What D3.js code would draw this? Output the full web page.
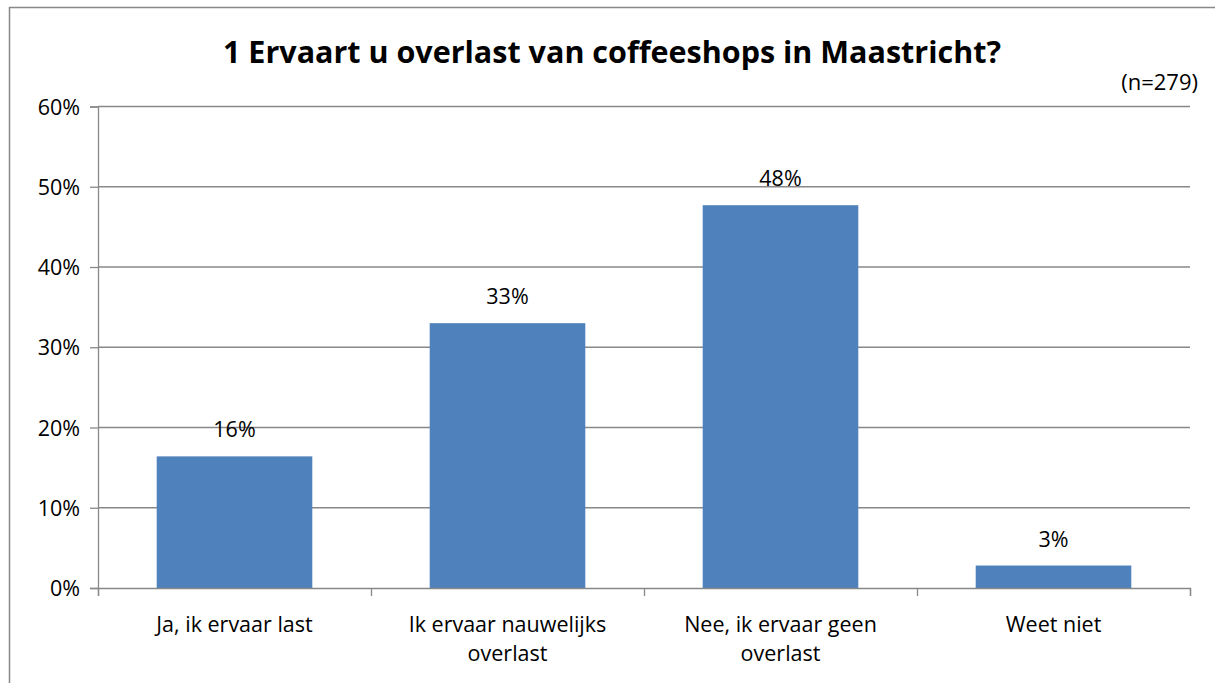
<!DOCTYPE html>
<html>
<head>
<meta charset="utf-8">
<script src="https://cdn.jsdelivr.net/npm/d3@7"></script>
<style>
  body { margin: 0; background: #fff; }
  text { font-family: "Open Sans", "Noto Sans", sans-serif; fill: #000; }
</style>
</head>
<body>
<div id="chart"></div>
<script>
// data
const categories = [["Ja, ik ervaar last"], ["Ik ervaar nauwelijks", "overlast"], ["Nee, ik ervaar geen", "overlast"], ["Weet niet"]];
const values = [0.164, 0.330, 0.477, 0.028];
const labels = ["16%", "33%", "48%", "3%"];
const yTicks = [0, 0.1, 0.2, 0.3, 0.4, 0.5, 0.6];

const width = 1215, height = 683;
const margin = {top: 106.5, right: 25, bottom: 95, left: 98};

const svg = d3.select("#chart").append("svg")
    .attr("width", width)
    .attr("height", height);

// outer frame (only top and left edges are visible)
svg.append("path")
    .attr("d", `M9.5,${height} V7.5 H${width}`)
    .attr("fill", "none").attr("stroke", "#888").attr("stroke-width", 1.5);

const x = d3.scaleBand()
    .domain(d3.range(categories.length))
    .range([margin.left, width - margin.right])
    .paddingInner(0.43).paddingOuter(0.215);

const xTicks = d3.scaleLinear().domain([0, categories.length]).range([margin.left, width - margin.right]);

const y = d3.scaleLinear().domain([0, 0.6]).range([588, margin.top]);

// gridlines
svg.append("g").selectAll("line")
    .data(yTicks.slice(1))
    .join("line")
    .attr("x1", margin.left).attr("x2", width - margin.right)
    .attr("y1", d => y(d)).attr("y2", d => y(d))
    .attr("stroke", "#888").attr("stroke-width", 1.3);

// y axis
const yAxis = svg.append("g")
    .attr("transform", `translate(${margin.left},0)`)
    .call(d3.axisLeft(y).tickValues(yTicks).tickFormat(d3.format(".0%")).tickSize(8).tickPadding(10));
yAxis.select(".domain").attr("stroke", "#888").attr("stroke-width", 1.3);
yAxis.selectAll(".tick line").attr("stroke", "#888").attr("stroke-width", 1.3);
yAxis.selectAll("text").attr("font-size", 21.5).attr("dy", "0.35em");

// bars
svg.append("g").selectAll("rect")
    .data(values)
    .join("rect")
    .attr("x", (d, i) => x(i))
    .attr("width", x.bandwidth())
    .attr("y", d => y(d))
    .attr("height", d => y(0) - y(d))
    .attr("fill", "#4f81bd");

// value labels
svg.append("g").selectAll("text")
    .data(values)
    .join("text")
    .attr("x", (d, i) => x(i) + x.bandwidth() / 2)
    .attr("y", d => y(d) - 19)
    .attr("text-anchor", "middle")
    .attr("font-size", 21.5)
    .text((d, i) => labels[i]);

// x axis
const xAxis = svg.append("g")
    .attr("transform", `translate(0,${y(0)})`)
    .call(d3.axisBottom(xTicks).tickValues(d3.range(categories.length + 1)).tickFormat("").tickSize(8));
xAxis.select(".domain").attr("stroke", "#888").attr("stroke-width", 1.3);
xAxis.selectAll(".tick line").attr("stroke", "#888").attr("stroke-width", 1.3);

// category labels, one text per line
const cat = svg.append("g").selectAll("g")
    .data(categories)
    .join("g")
    .attr("transform", (d, i) => `translate(${x(i) + x.bandwidth() / 2},0)`);
cat.selectAll("text")
    .data(d => d)
    .join("text")
    .attr("x", 0)
    .attr("y", (d, i) => 632 + i * 28.5)
    .attr("text-anchor", "middle")
    .attr("font-size", 21.5)
    .text(d => d);

// title
svg.append("text")
    .attr("x", 612).attr("y", 63)
    .attr("text-anchor", "middle")
    .attr("font-size", 30.5)
    .attr("font-weight", "bold")
    .text("1 Ervaart u overlast van coffeeshops in Maastricht?");

svg.append("text")
    .attr("x", 1198).attr("y", 90)
    .attr("text-anchor", "end")
    .attr("font-size", 22)
    .text("(n=279)");
</script>
</body>
</html>
